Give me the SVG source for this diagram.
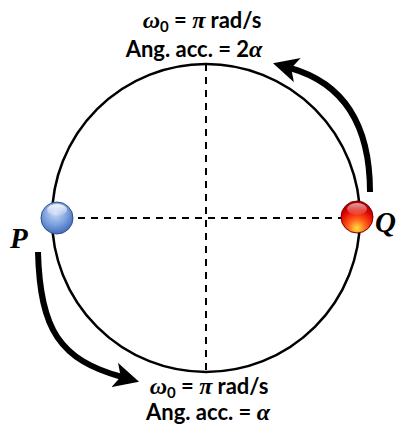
<svg xmlns="http://www.w3.org/2000/svg" width="399" height="426" viewBox="0 0 399 426">
<style>
.lbl{font-family:Lato,"Open Sans","Liberation Sans",sans-serif;font-weight:bold;font-size:22px;fill:#000}
.m{font-family:"Liberation Serif",serif;font-style:italic;font-weight:bold;font-size:24px}
.pq{font-family:"Liberation Serif",serif;font-style:italic;font-weight:bold;font-size:29px;fill:#000}
.dash{stroke:#000;stroke-width:2;stroke-dasharray:7,6;fill:none}
.arr{stroke:#000;stroke-width:6;fill:none}
</style>
<defs>
<marker id="ah" viewBox="0 0 10 10" refX="3" refY="5" markerWidth="4.2" markerHeight="4.2" orient="auto" markerUnits="strokeWidth">
<path d="M0,0 L10,5 L0,10 L2.5,5 Z" fill="#000"/>
</marker>
<radialGradient id="gb" cx="0.45" cy="0.35" r="0.7">
<stop offset="0" stop-color="#c6d8f5"/>
<stop offset="0.5" stop-color="#7fa4e0"/>
<stop offset="1" stop-color="#3a63b5"/>
</radialGradient>
<radialGradient id="gr" cx="0.5" cy="0.85" r="0.75">
<stop offset="0" stop-color="#ffe040"/>
<stop offset="0.4" stop-color="#ff5a1a"/>
<stop offset="0.8" stop-color="#e00000"/>
<stop offset="1" stop-color="#b00000"/>
</radialGradient>
<linearGradient id="hl" x1="0" y1="0" x2="0" y2="1">
<stop offset="0" stop-color="#fff" stop-opacity="0.9"/>
<stop offset="1" stop-color="#fff" stop-opacity="0.1"/>
</linearGradient>
</defs>
<g id="circle">
<circle cx="206" cy="218" r="154" fill="none" stroke="#000" stroke-width="2.5"/>
</g>
<g id="connectors">
<line class="dash" x1="206" y1="64" x2="206" y2="372"/>
<line class="dash" x1="52" y1="218" x2="360" y2="218"/>
<path class="arr" d="M370,192 C370,120 340,82 290,68" marker-end="url(#ah)"/>
<path class="arr" d="M38,252 C40,330 60,360 122,377" marker-end="url(#ah)"/>
</g>
<g id="P">
<circle cx="57" cy="218" r="16" fill="url(#gb)" stroke="#2f4f8f" stroke-width="1"/>
<ellipse cx="57" cy="210" rx="10" ry="6" fill="url(#hl)"/>
<text class="pq" x="10" y="248">P</text>
</g>
<g id="Q">
<circle cx="357" cy="217" r="16" fill="url(#gr)" stroke="#7a0000" stroke-width="1"/>
<ellipse cx="357" cy="209" rx="10" ry="6" fill="url(#hl)" opacity="0.7"/>
<text class="pq" x="375" y="232">Q</text>
</g>
<g id="top-label">
<text class="lbl" x="202" y="28" text-anchor="middle"><tspan class="m">ω</tspan><tspan font-size="15" dy="4">0</tspan><tspan dy="-4"> = </tspan><tspan class="m">π</tspan> rad/s</text>
<text class="lbl" x="194" y="57" text-anchor="middle">Ang. acc. = 2<tspan class="m">α</tspan></text>
</g>
<g id="bottom-label">
<text class="lbl" x="209" y="394" text-anchor="middle"><tspan class="m">ω</tspan><tspan font-size="15" dy="4">0</tspan><tspan dy="-4"> = </tspan><tspan class="m">π</tspan> rad/s</text>
<text class="lbl" x="208" y="420" text-anchor="middle">Ang. acc. = <tspan class="m">α</tspan></text>
</g>
</svg>
